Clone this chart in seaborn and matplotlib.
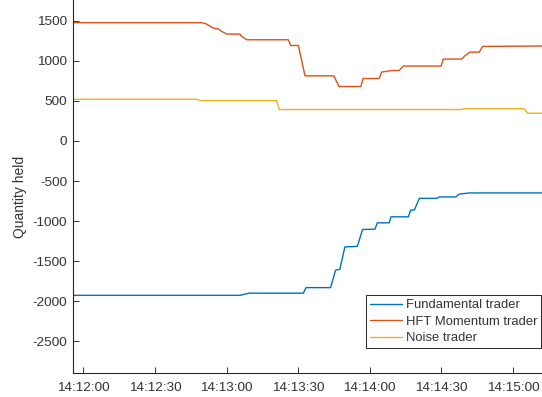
import numpy as np
import pandas as pd
import matplotlib
matplotlib.use("Agg")
import matplotlib.pyplot as plt
import matplotlib.dates as mdates
import seaborn as sns

# ---- data (seconds after 14:12:00, quantity held) ----
base_time = "2020-01-01 14:12:00"

fund_t = [-4.2, 65.7, 69.4, 92.2, 93.3, 103.6, 105.7, 107.5, 109.6, 114.8, 117.0,
          122.2, 123.2, 128.2, 128.9, 136.2, 137.2, 138.7, 140.8, 148.1, 149.1,
          156.1, 157.5, 162.0, 195.0]
fund_q = [-1925, -1925, -1898, -1898, -1829, -1829, -1612, -1600, -1321, -1315, -1104,
          -1100, -1021, -1021, -946, -946, -862, -862, -716, -716, -698,
          -698, -662, -648, -648]

hft_t = [-4.2, 49.6, 51.5, 54.5, 56.6, 58.0, 60.1, 65.6, 66.3, 68.5, 85.9, 86.9,
         90.1, 92.9, 105.0, 107.1, 116.3, 117.2, 124.0, 125.0, 129.2, 132.4, 134.1,
         149.9, 150.8, 158.5, 159.9, 162.0, 165.9, 167.3, 195.0]
hft_q = [1475, 1475, 1460, 1408, 1396, 1366, 1333, 1333, 1304, 1262, 1262, 1191,
         1191, 812, 812, 679, 679, 779, 779, 859, 879, 879, 934,
         934, 1021, 1021, 1062, 1108, 1108, 1179, 1185]

noise_t = [-4.2, 47.5, 49.2, 81.0, 82.1, 158.5, 159.5, 184.6, 186.2, 195.0]
noise_q = [520, 520, 503, 503, 392, 392, 402, 402, 346, 346]

series_names = ["Fundamental trader", "HFT Momentum trader", "Noise trader"]
series_colors = ["#0072BD", "#D95319", "#EDB120"]
y_ticks = [-2500, -2000, -1500, -1000, -500, 0, 500, 1000, 1500]
x_tick_labels = ["14:12:00", "14:12:30", "14:13:00", "14:13:30", "14:14:00", "14:14:30", "14:15:00"]

# ---- build long table ----
t0 = pd.Timestamp(base_time)
frames = []
for name, ts, qs in zip(series_names, [fund_t, hft_t, noise_t], [fund_q, hft_q, noise_q]):
    frames.append(pd.DataFrame({
        "time": [t0 + pd.Timedelta(seconds=s) for s in ts],
        "qty": qs,
        "trader": name,
    }))
df = pd.concat(frames, ignore_index=True)

sns.set_theme(style="white")
plt.rcParams["font.family"] = ["Liberation Sans", "DejaVu Sans"]

fig = plt.figure(figsize=(5.42, 3.97), dpi=100)
W, H = 542, 397
left_px, bottom_px = 73.3, 372.7
ax = fig.add_axes([left_px / W, (H - bottom_px) / H, (W - left_px) / W, bottom_px / H])

sns.lineplot(data=df, x="time", y="qty", hue="trader", hue_order=series_names,
             palette=series_colors, sort=False, estimator=None, linewidth=1.0, ax=ax)

# axes limits
ax.set_xlim(t0 + pd.Timedelta(seconds=-4.2), t0 + pd.Timedelta(seconds=192.2))
ax.set_ylim(-2890, 1758)
ax.set_yticks(y_ticks)
ax.set_yticklabels([str(v) for v in y_ticks])
xt = [pd.Timestamp("2020-01-01 " + s) for s in x_tick_labels]
ax.set_xticks(xt)
ax.set_xticklabels(x_tick_labels)

for side in ["top", "right"]:
    ax.spines[side].set_visible(False)
for side in ["left", "bottom"]:
    ax.spines[side].set_color("#262626")
    ax.spines[side].set_linewidth(0.8)

ax.tick_params(axis="both", direction="in", length=4, width=0.7, colors="#333333",
               labelsize=9.7, left=True, bottom=True)
ax.tick_params(axis="x", pad=7)
ax.tick_params(axis="y", pad=4.5)

ax.set_xlabel("")
ax.set_ylabel("Quantity held", fontsize=10, color="#333333")
ax.yaxis.set_label_coords(-0.098, 0.471)

leg = ax.legend(loc="lower right", bbox_to_anchor=(541 / W, (H - 348.3) / H),
                bbox_transform=fig.transFigure, frameon=True, fancybox=False,
                edgecolor="#262626", framealpha=1, fontsize=9.4, handlelength=2.45,
                handletextpad=0.3, labelspacing=0.33, borderpad=0.3,
                borderaxespad=0)
leg.get_frame().set_linewidth(0.7)
for txt in leg.get_texts():
    txt.set_color("#333333")

fig.savefig("out.png", dpi=100)
